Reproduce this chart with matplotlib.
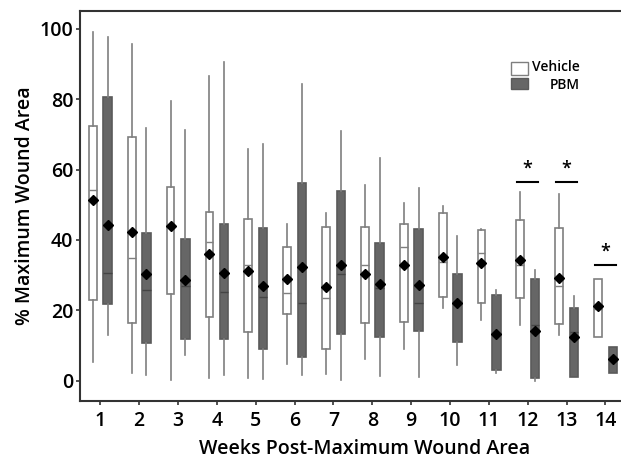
import numpy as np
import matplotlib
matplotlib.use("Agg")
import matplotlib.pyplot as plt
from matplotlib.patches import Rectangle

plt.rcParams['font.family'] = ['Open Sans', 'DejaVu Sans']

weeks = np.arange(1, 15)

# Vehicle group
veh_whishi = [99.0, 95.7, 79.5, 86.6, 65.8, 44.6, 47.7, 55.6, 50.4, 49.6, 43.0, 53.5, 53.0, 28.9]
veh_q3 = [72.4, 69.4, 55.0, 47.9, 46.0, 38.1, 43.7, 43.8, 44.5, 47.7, 42.7, 45.8, 43.4, 28.9]
veh_med = [54.3, 34.9, 44.0, 39.3, 33.0, 25.0, 23.5, 32.9, 38.1, 33.6, 36.3, 33.0, 26.9, 20.3]
veh_mean = [51.3, 42.2, 43.9, 35.9, 31.3, 28.8, 26.6, 30.3, 32.8, 35.2, 33.5, 34.4, 29.3, 21.1]
veh_q1 = [22.8, 16.5, 24.5, 18.0, 13.8, 19.0, 8.9, 16.4, 16.7, 23.7, 22.2, 23.5, 16.0, 12.5]
veh_whislo = [5.2, 2.1, 0.2, 0.7, 0.7, 4.7, 1.9, 6.1, 9.0, 20.7, 17.3, 15.7, 13.1, 12.5]

# PBM group
pbm_whishi = [97.6, 71.7, 71.2, 90.7, 67.4, 84.2, 70.9, 63.4, 54.9, 41.0, 25.8, 31.5, 24.1, 9.6]
pbm_q3 = [80.7, 41.9, 40.2, 44.4, 43.5, 56.3, 53.8, 39.1, 43.1, 30.2, 24.2, 29.0, 20.5, 9.6]
pbm_med = [30.7, 25.8, 26.9, 25.2, 23.9, 22.1, 30.3, 26.4, 22.1, 22.1, 13.3, 15.9, 13.8, 6.0]
pbm_mean = [44.2, 30.2, 28.7, 30.6, 27.0, 32.4, 32.8, 27.4, 27.1, 22.1, 13.3, 14.2, 12.3, 6.0]
pbm_q1 = [21.7, 10.8, 11.9, 11.9, 8.9, 6.8, 13.3, 12.5, 14.1, 11.1, 3.0, 0.7, 1.1, 2.3]
pbm_whislo = [13.1, 1.7, 7.3, 1.6, 0.5, 1.7, 0.2, 1.4, 1.1, 4.5, 2.1, 0.0, 1.1, 2.3]

# significance bars
sig_weeks = [12, 13, 14]
sig_y = [56.6, 56.6, 33.0]


def make_stats(lo, q1, med, q3, hi, mean):
    return [dict(whislo=a, q1=b, med=c, q3=d, whishi=e, mean=f, fliers=[])
            for a, b, c, d, e, f in zip(lo, q1, med, q3, hi, mean)]


fig = plt.figure(figsize=(6.21, 4.66), dpi=100)
ax = fig.add_axes([0.1295, 0.1395, 0.8705, 0.837])

grey = '#7f7f7f'
meanprops = dict(marker='D', markerfacecolor='black', markeredgecolor='black', markersize=5.5)

ax.bxp(make_stats(veh_whislo, veh_q1, veh_med, veh_q3, veh_whishi, veh_mean),
       positions=weeks - 0.19, widths=0.2, patch_artist=True, showcaps=False,
       showmeans=True, showfliers=False, meanprops=meanprops,
       boxprops=dict(facecolor='white', edgecolor=grey, linewidth=1.2),
       whiskerprops=dict(color=grey, linewidth=1.2),
       medianprops=dict(color=grey, linewidth=1.0), manage_ticks=False)

ax.bxp(make_stats(pbm_whislo, pbm_q1, pbm_med, pbm_q3, pbm_whishi, pbm_mean),
       positions=weeks + 0.19, widths=0.22, patch_artist=True, showcaps=False,
       showmeans=True, showfliers=False, meanprops=meanprops,
       boxprops=dict(facecolor='#666666', edgecolor='#5a5a5a', linewidth=1.2),
       whiskerprops=dict(color=grey, linewidth=1.2),
       medianprops=dict(color='#444444', linewidth=1.0), manage_ticks=False)

for w, y in zip(sig_weeks, sig_y):
    ax.plot([w - 0.27, w + 0.27], [y, y], color='black', lw=1.5)
    ax.text(w, y + 1.2, '*', ha='center', va='bottom', fontsize=13, fontweight='semibold')

ax.set_xlim(0.49, 14.4)
ax.set_ylim(-5.8, 105.1)
ax.set_xticks(weeks)
ax.set_yticks(range(0, 101, 20))
ax.tick_params(direction='out', length=3, width=1.2, color='#333333', labelsize=14)
ax.tick_params(axis='x', pad=4.5)
ax.tick_params(axis='y', pad=2.0)
for lab in ax.get_xticklabels() + ax.get_yticklabels():
    lab.set_fontweight('semibold')

for s in ['left', 'bottom', 'top']:
    ax.spines[s].set_color('#333333')
    ax.spines[s].set_linewidth(1.5)
ax.spines['right'].set_visible(False)

ax.set_ylabel('% Maximum Wound Area', fontsize=14, fontweight='semibold')
ax.yaxis.set_label_coords(-0.084, 0.5)
ax.set_xlabel('Weeks Post-Maximum Wound Area', fontsize=14, fontweight='semibold')
ax.xaxis.set_label_coords(0.526, -0.097)

# legend drawn by hand so the labels are right aligned
ax.add_patch(Rectangle((0.797, 0.836), 0.031, 0.033, transform=ax.transAxes,
                       facecolor='white', edgecolor=grey, lw=1.0, clip_on=False))
ax.add_patch(Rectangle((0.797, 0.799), 0.031, 0.028, transform=ax.transAxes,
                       facecolor='#666666', edgecolor='#5a5a5a', lw=1.0, clip_on=False))
ax.text(0.924, 0.857, 'Vehicle', transform=ax.transAxes, ha='right', va='center',
        fontsize=10, fontweight='semibold')
ax.text(0.924, 0.811, 'PBM', transform=ax.transAxes, ha='right', va='center',
        fontsize=10, fontweight='semibold')

fig.savefig('out.png', dpi=100)
